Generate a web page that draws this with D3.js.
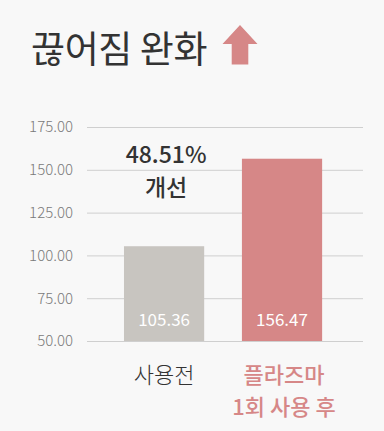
<!DOCTYPE html>
<html><head><meta charset="utf-8">
<script src="https://cdn.jsdelivr.net/npm/d3@7"></script>
<style>
html,body{margin:0;padding:0;background:#f8f8f8;}
svg{display:block;font-family:"Noto Sans CJK KR","Noto Sans",sans-serif;}
</style></head>
<body>
<script>
const categories = ["사용전", "플라즈마\n1회 사용 후"];
const values = [105.36, 156.47];
const valueLabels = ["105.36", "156.47"];
const tickValues = [50, 75, 100, 125, 150, 175];
const title = "끊어짐 완화";
const improvement = ["48.51%", "개선"];
const barColors = ["#c8c5c0", "#d68787"];
const labelColors = ["#333333", "#d68787"];

const W = 384, H = 431;
const svg = d3.select("body").append("svg").attr("width", W).attr("height", H);
svg.append("rect").attr("width", W).attr("height", H).attr("fill", "#f8f8f8");

const x0 = 87, x1 = 363, yTop = 127, yBot = 341;
const y = d3.scaleLinear().domain([50, 175]).range([yBot, yTop]);
const x = d3.scaleBand().domain(categories).range([x0, x1]).paddingInner(0.32).paddingOuter(0.33).align(0.475);

// Title
svg.append("text").attr("x", 31).attr("y", 63).attr("font-size", 37).attr("fill", "#333")
  .attr("font-weight", 400).attr("letter-spacing", -0.4).text(title);
// Arrow
const ax = 240, aTop = 25, aHead = 44, aBot = 64.5, aHalf = 17.5, sHalf = 8.3;
svg.append("path").attr("fill", "#d68787")
  .attr("d", `M${ax},${aTop} L${ax + aHalf},${aHead} L${ax + sHalf},${aHead} L${ax + sHalf},${aBot} L${ax - sHalf},${aBot} L${ax - sHalf},${aHead} L${ax - aHalf},${aHead} Z`);

// Grid & axis
const axis = d3.axisLeft(y).tickValues(tickValues).tickFormat(d3.format(".2f")).tickSize(-(x1 - x0)).tickPadding(14);
const g = svg.append("g").attr("transform", `translate(${x0},0)`).call(axis);
g.select(".domain").remove();
g.selectAll(".tick line").attr("stroke", "#cfcfcf").attr("stroke-width", 1);
g.selectAll(".tick text").attr("fill", "#7a7a7a").attr("font-size", 15)
  .attr("font-family", '"Noto Sans CJK KR","Noto Sans",sans-serif').attr("font-weight", 300);

// Bars
svg.selectAll("rect.bar").data(values).enter().append("rect").attr("class", "bar")
  .attr("x", (d, i) => x(categories[i])).attr("width", x.bandwidth())
  .attr("y", d => y(d)).attr("height", d => yBot - y(d))
  .attr("fill", (d, i) => barColors[i]);

// Value labels
svg.selectAll("text.val").data(valueLabels).enter().append("text").attr("class", "val")
  .attr("x", (d, i) => x(categories[i]) + x.bandwidth() / 2).attr("y", 326)
  .attr("text-anchor", "middle").attr("fill", "#fff").attr("font-size", 17).attr("font-weight", 400).text(d => d);

// Improvement annotation
const cx0 = x(categories[0]) + x.bandwidth() / 2 + 2;
svg.append("text").attr("x", cx0).attr("y", 162.5).attr("text-anchor", "middle")
  .attr("font-size", 23).attr("font-weight", 500).attr("fill", "#333").text(improvement[0]);
svg.append("text").attr("x", cx0).attr("y", 195.5).attr("text-anchor", "middle")
  .attr("font-size", 23).attr("font-weight", 500).attr("fill", "#333").text(improvement[1]);

// Category labels
categories.forEach((c, i) => {
  const lines = c.split("\n");
  const cx = x(c) + x.bandwidth() / 2 + (i ? 2 : 0);
  const t = svg.append("text").attr("x", cx).attr("y", 383)
    .attr("text-anchor", "middle").attr("font-size", 22).attr("fill", labelColors[i])
    .attr("font-weight", i ? 500 : 300);
  lines.forEach((l, k) => t.append("tspan").attr("x", cx).attr("dy", k ? 32 : 0).text(l));
});
</script>
</body></html>
